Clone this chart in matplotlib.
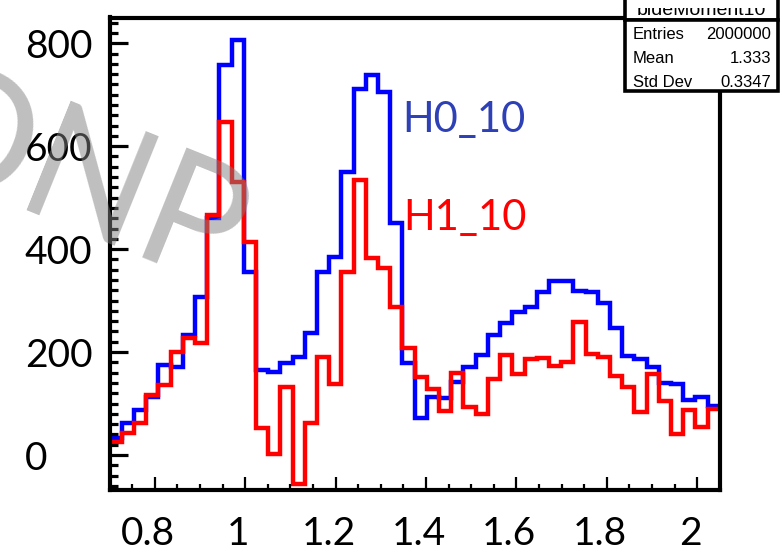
import numpy as np
import matplotlib.pyplot as plt
from matplotlib.patches import Rectangle
from matplotlib.transforms import ScaledTranslation

# histogram range / binning
x_min, x_max, n_bins = 0.7, 2.05, 50

h0_counts = [33, 63, 87, 113, 175, 171, 233, 307, 460, 757,
             806, 356, 165, 162, 179, 191, 237, 356, 385, 550,
             712, 738, 705, 450, 178, 71, 113, 110, 141, 171,
             194, 233, 257, 278, 288, 317, 338, 338, 319, 316,
             295, 246, 193, 186, 171, 139, 138, 107, 113, 96]
h1_counts = [26, 43, 62, 117, 136, 200, 227, 217, 466, 647,
             531, 414, 53, 2, 133, -56, 63, 191, 138, 356,
             534, 382, 363, 288, 207, 152, 129, 86, 160, 94,
             80, 147, 194, 157, 186, 189, 173, 181, 259, 197,
             190, 153, 133, 84, 157, 104, 40, 87, 55, 89]

x_ticks = [0.8, 1.0, 1.2, 1.4, 1.6, 1.8, 2.0]
x_tick_labels = ["0.8", "1", "1.2", "1.4", "1.6", "1.8", "2"]
y_ticks = [0, 200, 400, 600, 800]
y_tick_labels = ["0", "200", "400", "600", "800"]

stats_title = "bideMoment10"
stats_rows = [("Entries", "2000000"), ("Mean", "1.333"), ("Std Dev", "0.3347")]

W, H = 782, 555
fig = plt.figure(figsize=(W / 100, H / 100), dpi=100)
ax = fig.add_axes([109.5 / W, (H - 490) / H, (719.8 - 109.5) / W, (490 - 17.5) / H])

edges = np.linspace(x_min, x_max, n_bins + 1)
ax.stairs(h0_counts, edges, baseline=None, color="#0000ff", lw=3.2)
ax.stairs(h1_counts, edges, baseline=None, color="#ff0000", lw=3.2)

ax.set_xlim(x_min, x_max)
ax.set_ylim(-68, 850)

for s in ax.spines.values():
    s.set_linewidth(3)

ax.set_xticks(x_ticks, x_tick_labels)
ax.set_xticks(np.arange(0.75, 2.05, 0.05), minor=True)
ax.set_yticks(y_ticks, y_tick_labels)
ax.set_yticks(np.arange(-60, 850, 20), minor=True)

ax.tick_params(axis="both", which="both", direction="in", top=False, right=False)
ax.tick_params(axis="x", which="major", length=9.5, width=1.6, pad=19,
               labelsize=28, labelfontfamily="Lato")
ax.tick_params(axis="x", which="minor", length=4.5, width=1.6)
ax.tick_params(axis="y", which="major", length=13, width=2.3, pad=61,
               labelsize=28, labelfontfamily="Lato")
ax.tick_params(axis="y", which="minor", length=6, width=2.3)
for lab in ax.get_yticklabels():
    lab.set_horizontalalignment("left")
for lab in ax.get_xticklabels():
    lab.set_transform(lab.get_transform() + ScaledTranslation(-7 / 100, 0, fig.dpi_scale_trans))

# curve labels
ax.text(402 / W, 1 - 131.7 / H, "H0_10", transform=fig.transFigure, color="#2e40b5",
        fontsize=30, family="Lato", va="baseline")
ax.text(403 / W, 1 - 230 / H, "H1_10", transform=fig.transFigure, color="#ff0000",
        fontsize=30, family="Lato", va="baseline")

# stats box
bx0, bx1 = 625, 778
fig.patches.append(Rectangle((bx0 / W, (H - 20) / H), (bx1 - bx0) / W, 30 / H,
                             transform=fig.transFigure, facecolor="white",
                             edgecolor="black", lw=2.6, zorder=5))
fig.patches.append(Rectangle((bx0 / W, (H - 91) / H), (bx1 - bx0) / W, 71 / H,
                             transform=fig.transFigure, facecolor="white",
                             edgecolor="black", lw=2.6, zorder=5))
title = fig.text((bx0 + bx1) / 2 / W, 1 - 15 / H, stats_title, ha="center", va="baseline",
                 fontsize=14, family="Liberation Sans", zorder=6)
title.set_clip_path(Rectangle((bx0 / W, (H - 19) / H), (bx1 - bx0) / W, 11 / H,
                              transform=fig.transFigure))
for i, (name, val) in enumerate(stats_rows):
    yy = 1 - (34.5 + 24 * i) / H
    fig.text(633 / W, yy, name, ha="left", va="center", fontsize=12,
             family="Liberation Sans", zorder=6)
    fig.text(771 / W, yy, val, ha="right", va="center", fontsize=12,
             family="Liberation Sans", zorder=6)

# watermark
wx, wy = 11 / W, 1 - 210 / H
fig.text(wx, wy, "NP", ha="left", va="baseline", rotation=-22,
         rotation_mode="anchor", fontsize=118, family="Lato",
         color="#808080", alpha=0.5, zorder=10)
fig.text(wx, wy, "O", ha="right", va="baseline", rotation=-22,
         rotation_mode="anchor", fontsize=118, family="Lato",
         color="#808080", alpha=0.5, zorder=10)

fig.savefig("out.png", dpi=100)
